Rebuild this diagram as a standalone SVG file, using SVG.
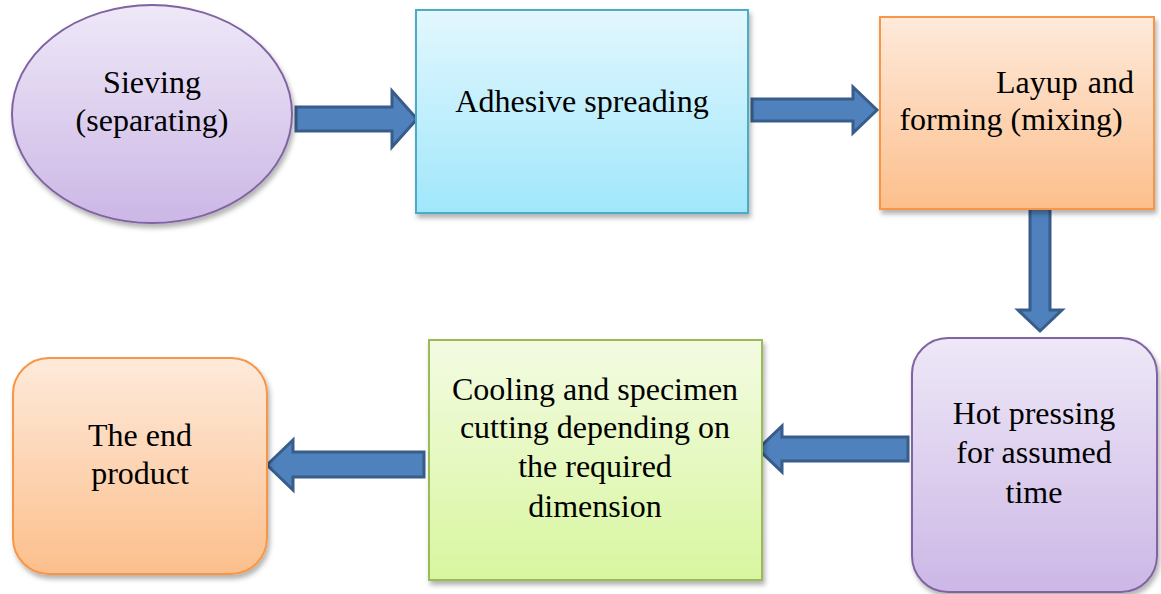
<svg xmlns="http://www.w3.org/2000/svg" width="1161" height="594" viewBox="0 0 1161 594">
<defs>
<linearGradient id="gPurple" x1="0" y1="0" x2="0" y2="1"><stop offset="0" stop-color="#EEE8F7"/><stop offset="1" stop-color="#CCB7E6"/></linearGradient>
<linearGradient id="gBlue" x1="0" y1="0" x2="0" y2="1"><stop offset="0" stop-color="#E3F7FE"/><stop offset="1" stop-color="#A0E7FB"/></linearGradient>
<linearGradient id="gOrange" x1="0" y1="0" x2="0" y2="1"><stop offset="0" stop-color="#FEEADB"/><stop offset="1" stop-color="#FCBF8C"/></linearGradient>
<linearGradient id="gGreen" x1="0" y1="0" x2="0" y2="1"><stop offset="0" stop-color="#F3FBE2"/><stop offset="1" stop-color="#D8F69F"/></linearGradient>
<filter id="sh" x="-10%" y="-10%" width="125%" height="125%"><feDropShadow dx="2" dy="4" stdDeviation="2.5" flood-color="#000" flood-opacity="0.3"/></filter>
</defs>
<style>
.t{font-size:32px;fill:#000;text-anchor:middle}
.arrow{fill:#4F81BD;stroke:#385D8A;stroke-width:3;stroke-linejoin:miter}
.node{filter:url(#sh);stroke-width:2}
</style>
<g id="connectors">
<path class="arrow" d="M296,107 H392 V91 L417,119 L392,147 V131 H296 Z"/>
<path class="arrow" d="M752,99 H853 V87 L877,110 L853,133 V121 H752 Z"/>
<path class="arrow" d="M1030,204 H1050 V310 H1062 L1040,331 L1018,310 H1030 Z"/>
<path class="arrow" d="M908,437 H782 V426 L758,449 L782,472 V461 H908 Z"/>
<path class="arrow" d="M424,452 H293 V440 L267,465 L293,490 V477 H424 Z"/>
</g>
<g font-family="Liberation Serif, Times New Roman, serif">
<g id="sieving">
<ellipse class="node" cx="152" cy="114" rx="140" ry="109" fill="url(#gPurple)" stroke="#8064A2"/>
<text class="t" x="152" y="93">Sieving</text>
<text class="t" x="152" y="131">(separating)</text>
</g>
<g id="adhesive">
<rect class="node" x="416" y="10" width="332" height="203" fill="url(#gBlue)" stroke="#4BACC6"/>
<text class="t" x="582" y="112">Adhesive spreading</text>
</g>
<g id="layup">
<rect class="node" x="880" y="17" width="274" height="192" fill="url(#gOrange)" stroke="#F79646"/>
<text class="t" x="1134" y="93" text-anchor="end" style="text-anchor:end" word-spacing="2">Layup and</text>
<text class="t" x="1011" y="130">forming (mixing)</text>
</g>
<g id="hotpressing">
<rect class="node" x="912" y="338" width="245" height="254" rx="36" fill="url(#gPurple)" stroke="#8064A2"/>
<text class="t" x="1034" y="424">Hot pressing</text>
<text class="t" x="1034" y="463">for assumed</text>
<text class="t" x="1034" y="503">time</text>
</g>
<g id="cooling">
<rect class="node" x="429" y="340" width="333" height="240" fill="url(#gGreen)" stroke="#9BBB59"/>
<text class="t" x="595" y="400">Cooling and specimen</text>
<text class="t" x="595" y="438">cutting depending on</text>
<text class="t" x="595" y="477">the required</text>
<text class="t" x="595" y="517">dimension</text>
</g>
<g id="endproduct">
<rect class="node" x="13" y="358" width="254" height="216" rx="36" fill="url(#gOrange)" stroke="#F79646"/>
<text class="t" x="140" y="446">The end</text>
<text class="t" x="140" y="484">product</text>
</g>
</g>
</svg>
